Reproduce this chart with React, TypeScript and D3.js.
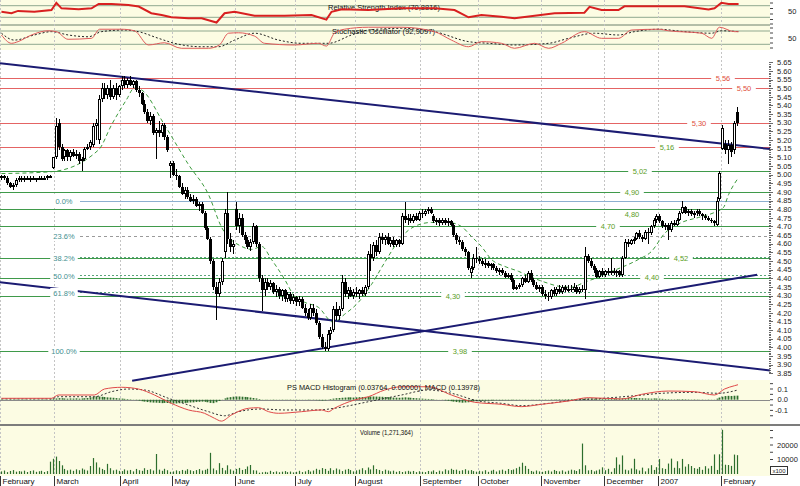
import React, { useEffect } from "react";
import * as d3 from "d3";

// ---------- DATA ----------
// daily candles [open, high, low, close]
const feb06 = [
  [4.98,5.00,4.97,4.99],[4.99,5.00,4.97,4.98],[4.98,4.99,4.94,4.95],[4.95,4.96,4.92,4.93],[4.93,4.95,4.91,4.94],
  [4.94,4.98,4.93,4.97],[4.97,4.99,4.96,4.98],[4.98,4.99,4.96,4.97],[4.97,4.99,4.96,4.98],[4.98,4.99,4.97,4.97],
  [4.97,4.99,4.96,4.98],[4.98,4.99,4.97,4.97],[4.97,4.98,4.96,4.98],[4.98,4.99,4.97,4.98],[4.98,4.99,4.97,4.97],
  [4.97,4.99,4.97,4.98],[4.98,5.00,4.97,4.99],[4.99,5.00,4.98,4.99],[5.04,5.10,5.03,5.10]];
const mar06 = [
  [5.10,5.33,5.09,5.28],[5.30,5.32,5.14,5.16],[5.16,5.18,5.08,5.09],[5.10,5.15,5.08,5.14],[5.14,5.15,5.08,5.10],
  [5.10,5.14,5.08,5.13],[5.13,5.15,5.10,5.11],[5.11,5.14,5.09,5.12],[5.12,5.13,5.06,5.08],[5.08,5.10,5.02,5.09],
  [5.09,5.16,5.08,5.15],[5.15,5.18,5.14,5.16],[5.16,5.20,5.14,5.19],[5.17,5.30,5.16,5.28],[5.28,5.32,5.20,5.30],
  [5.20,5.46,5.18,5.44],[5.44,5.53,5.42,5.50],[5.50,5.53,5.44,5.46],[5.46,5.52,5.44,5.50],[5.50,5.55,5.43,5.45],
  [5.45,5.52,5.44,5.50],[5.50,5.53,5.43,5.46],[5.46,5.52,5.45,5.51]];
const apr06 = [
  [5.51,5.57,5.49,5.55],[5.55,5.57,5.50,5.52],[5.52,5.56,5.50,5.55],[5.55,5.57,5.51,5.52],[5.52,5.55,5.50,5.54],
  [5.54,5.55,5.48,5.49],[5.49,5.51,5.45,5.47],[5.47,5.48,5.40,5.41],[5.41,5.43,5.35,5.36],[5.36,5.38,5.30,5.31],
  [5.31,5.36,5.29,5.34],[5.34,5.35,5.23,5.24],[5.24,5.27,5.09,5.26],[5.26,5.31,5.22,5.24],[5.24,5.30,5.22,5.29],
  [5.29,5.30,5.20,5.22],[5.22,5.23,5.13,5.14],[5.05,5.08,4.98,5.07]];
const may06 = [
  [5.07,5.08,4.99,5.00],[5.00,5.03,4.97,4.99],[4.99,5.00,4.92,4.93],[4.93,4.95,4.88,4.89],[4.89,4.93,4.86,4.91],
  [4.91,4.93,4.86,4.87],[4.87,4.89,4.84,4.85],[4.85,4.88,4.83,4.86],[4.86,4.87,4.81,4.82],[4.82,4.84,4.79,4.83],
  [4.83,4.84,4.77,4.78],[4.78,4.79,4.68,4.69],[4.69,4.70,4.62,4.63],[4.63,4.64,4.48,4.50],[4.50,4.51,4.33,4.35],
  [4.35,4.38,4.16,4.31],[4.31,4.40,4.29,4.38],[4.38,4.52,4.36,4.50],[4.55,4.80,4.52,4.78],[4.78,4.90,4.60,4.63],
  [4.63,4.66,4.55,4.58],[4.58,4.62,4.54,4.60]];
const jun06 = [
  [4.80,4.84,4.68,4.70],[4.70,4.78,4.66,4.75],[4.75,4.77,4.64,4.65],[4.65,4.67,4.60,4.62],[4.62,4.64,4.57,4.58],
  [4.58,4.63,4.56,4.61],[4.61,4.72,4.60,4.70],[4.70,4.71,4.58,4.60],[4.60,4.61,4.38,4.40],[4.40,4.42,4.21,4.33],
  [4.33,4.40,4.30,4.38],[4.38,4.40,4.33,4.35],[4.35,4.39,4.33,4.37],[4.37,4.38,4.31,4.32],[4.32,4.36,4.29,4.34],
  [4.34,4.35,4.28,4.30],[4.30,4.34,4.27,4.33],[4.33,4.34,4.26,4.28],[4.28,4.32,4.26,4.31],[4.31,4.32,4.25,4.27],
  [4.27,4.31,4.25,4.29]];
const jul06 = [
  [4.29,4.30,4.24,4.26],[4.26,4.30,4.24,4.28],[4.28,4.29,4.22,4.23],[4.23,4.25,4.18,4.20],[4.20,4.22,4.16,4.17],
  [4.17,4.25,4.16,4.23],[4.23,4.25,4.18,4.20],[4.20,4.22,4.13,4.14],[4.14,4.15,4.05,4.06],[4.06,4.08,3.99,4.00],
  [4.00,4.03,3.98,3.99],[3.99,4.10,3.98,4.08],[4.08,4.12,4.04,4.10],[4.10,4.24,4.09,4.22],[4.22,4.26,4.16,4.18],
  [4.18,4.24,4.16,4.22],[4.22,4.42,4.21,4.38],[4.38,4.40,4.29,4.31],[4.31,4.35,4.28,4.33],[4.33,4.35,4.29,4.30],
  [4.30,4.34,4.28,4.32]];
const aug06 = [
  [4.32,4.35,4.29,4.31],[4.31,4.34,4.28,4.33],[4.33,4.35,4.30,4.31],[4.31,4.36,4.30,4.35],[4.35,4.56,4.34,4.54],
  [4.54,4.60,4.44,4.52],[4.52,4.61,4.50,4.59],[4.59,4.62,4.53,4.55],[4.55,4.66,4.54,4.64],[4.64,4.66,4.60,4.62],
  [4.62,4.65,4.59,4.64],[4.64,4.66,4.59,4.60],[4.60,4.64,4.58,4.62],[4.62,4.64,4.58,4.59],[4.59,4.63,4.58,4.62],
  [4.62,4.63,4.58,4.60],[4.60,4.78,4.59,4.76],[4.76,4.84,4.72,4.74],[4.74,4.77,4.71,4.75],[4.75,4.77,4.72,4.73],
  [4.73,4.77,4.72,4.76],[4.76,4.78,4.73,4.74],[4.74,4.79,4.73,4.78]];
const sep06 = [
  [4.78,4.80,4.75,4.77],[4.77,4.80,4.76,4.79],[4.79,4.81,4.77,4.80],[4.80,4.81,4.77,4.78],[4.76,4.77,4.72,4.73],
  [4.73,4.75,4.71,4.74],[4.74,4.75,4.70,4.72],[4.72,4.75,4.71,4.74],[4.74,4.75,4.71,4.72],[4.72,4.75,4.70,4.73],
  [4.73,4.74,4.70,4.71],[4.71,4.72,4.64,4.65],[4.65,4.66,4.60,4.62],[4.62,4.64,4.59,4.61],[4.61,4.62,4.56,4.57],
  [4.57,4.58,4.53,4.55],[4.55,4.56,4.45,4.46],[4.43,4.47,4.40,4.46],[4.46,4.54,4.45,4.52],[4.52,4.58,4.49,4.51]];
const oct06 = [
  [4.51,4.53,4.48,4.50],[4.50,4.52,4.47,4.48],[4.48,4.51,4.46,4.49],[4.49,4.50,4.46,4.47],[4.47,4.49,4.45,4.48],
  [4.48,4.49,4.45,4.46],[4.46,4.47,4.43,4.44],[4.44,4.46,4.42,4.45],[4.45,4.46,4.42,4.43],[4.43,4.44,4.40,4.41],
  [4.41,4.43,4.40,4.42],[4.42,4.43,4.38,4.39],[4.39,4.40,4.33,4.34],[4.34,4.36,4.33,4.35],[4.35,4.37,4.34,4.36],
  [4.36,4.41,4.35,4.40],[4.40,4.42,4.37,4.38],[4.38,4.44,4.37,4.43],[4.43,4.45,4.38,4.39],[4.39,4.40,4.35,4.36],
  [4.36,4.38,4.33,4.34],[4.34,4.36,4.32,4.35]];
const nov06 = [
  [4.35,4.36,4.30,4.31],[4.31,4.33,4.28,4.30],[4.30,4.32,4.27,4.29],[4.29,4.34,4.28,4.33],[4.33,4.35,4.30,4.31],
  [4.31,4.35,4.30,4.34],[4.34,4.36,4.31,4.32],[4.32,4.36,4.31,4.35],[4.35,4.36,4.32,4.33],[4.33,4.36,4.32,4.34],
  [4.34,4.36,4.32,4.33],[4.33,4.37,4.32,4.35],[4.35,4.36,4.31,4.32],[4.32,4.35,4.31,4.34],[4.34,4.36,4.32,4.33],
  [4.33,4.58,4.28,4.53],[4.53,4.54,4.49,4.50],[4.50,4.52,4.46,4.47],[4.47,4.48,4.43,4.45],[4.45,4.46,4.40,4.41],
  [4.41,4.45,4.40,4.44],[4.44,4.46,4.41,4.42]];
const dec06 = [
  [4.42,4.45,4.41,4.44],[4.44,4.46,4.42,4.43],[4.43,4.52,4.42,4.44],[4.44,4.46,4.42,4.43],[4.43,4.45,4.41,4.44],
  [4.44,4.45,4.41,4.42],[4.42,4.53,4.41,4.52],[4.52,4.63,4.51,4.61],[4.61,4.63,4.58,4.60],[4.60,4.63,4.59,4.62],
  [4.62,4.64,4.60,4.63],[4.63,4.67,4.62,4.66],[4.66,4.68,4.63,4.64],[4.64,4.65,4.61,4.63],[4.63,4.68,4.62,4.67],
  [4.67,4.69,4.60,4.66],[4.66,4.71,4.65,4.70],[4.70,4.75,4.69,4.74],[4.74,4.77,4.72,4.76]];
const jan07 = [
  [4.76,4.77,4.72,4.73],[4.73,4.74,4.69,4.70],[4.70,4.72,4.68,4.71],[4.71,4.72,4.62,4.68],[4.68,4.73,4.67,4.72],
  [4.72,4.74,4.70,4.71],[4.71,4.75,4.70,4.74],[4.74,4.79,4.73,4.78],[4.78,4.85,4.77,4.81],[4.81,4.82,4.77,4.78],
  [4.78,4.80,4.76,4.79],[4.79,4.80,4.76,4.77],[4.77,4.79,4.75,4.78],[4.78,4.80,4.76,4.79],[4.79,4.80,4.76,4.77],
  [4.77,4.78,4.74,4.76],[4.76,4.77,4.74,4.75],[4.75,4.76,4.73,4.74],[4.74,4.75,4.72,4.73],[4.73,4.74,4.70,4.72],
  [4.71,4.87,4.70,4.85],[4.86,5.02,4.85,5.01]];
const feb07 = [
  [5.15,5.29,5.14,5.27],[5.18,5.20,5.12,5.14],[5.14,5.20,5.06,5.17],[5.17,5.19,5.10,5.13],[5.14,5.31,5.12,5.30],
  [5.36,5.39,5.28,5.30]];

// daily volume (x100)
const volFeb06 = [1800,2400,1300,2100,2700,1600,2000,1700,2300,1400,2100,2500,1500,1900,2200,1400,2000,8500,10500];
const volMar06 = [12000,9000,6000,3500,2500,3000,2200,3200,2600,3800,3000,2400,5500,11000,8000,4500,3500,2700,7000,4000,2500,3000,2200];
const volApr06 = [2000,3200,2400,2800,1800,3500,2600,2200,4000,2800,3300,2400,13800,3000,2200,3600,2600,1500];
const volMay06 = [1800,2500,2000,2800,2300,3300,2600,2000,2700,3400,2400,2900,3600,14600,3800,2600,7500,4200,2500,6000,3200,2300];
const volJun06 = [3500,4200,2800,3400,5200,6200,2600,2400,900,1200,1500,1100,2200,1400,1800,1200,1600,2000,1300,1700,1100];
const volJul06 = [1500,2200,1300,1800,2800,1700,2400,3600,2900,4100,3500,2200,4000,2600,3800,3100,2000,3000,3500,2700,1800];
const volAug06 = [2500,3000,4000,2600,4500,3200,6000,3400,2800,2000,3000,2400,1800,2300,1500,2000,1400,1800,2200,1600,2100,1300,1900];
const volSep06 = [1500,1300,2100,1700,2500,1400,2300,1800,3200,2500,3600,2800,3000,2200,2600,3300,2400,2700,2000,1600];
const volOct06 = [2200,1800,2600,1500,2300,2900,1700,2500,3000,2200,3400,2700,3100,4000,5000,7800,5600,3500,2100,1600,2400,1800];
const volNov06 = [1500,2000,2400,1700,2800,2100,1800,2500,1600,2300,3000,2600,2100,3300,21000,6000,2500,2800,1800,2400,3100,4600];
const volDec06 = [2600,3600,1500,4000,11500,6500,12800,3000,2500,3800,10500,3200,2400,4400,1800,3900,6100,2800,4700];
const volJan07 = [10300,4000,3500,7200,10600,4300,8800,4000,10400,5100,6800,5500,4100,3600,4800,2900,5400,3800,5600,13500,2800,13600];
const volFeb07 = [30500,6400,6200,5600,13400,13000];

// MACD histogram, daily
const histFeb06 = [0.003,-0.002,0.002,-0.003,0.002,0.003,-0.002,0.002,0.003,0.002,-0.002,0.003,0.002,0.002,-0.002,0.003,0.002,0.004,0.008];
const histMar06 = [0.012,0.015,0.014,0.012,0.010,0.012,0.011,0.013,0.010,0.012,0.014,0.016,0.022,0.028,0.032,0.030,0.027,0.025,0.022,0.020,0.018,0.015,0.012];
const histApr06 = [0.010,0.008,0.006,0.004,0.002,-0.004,-0.008,-0.014,-0.018,-0.022,-0.025,-0.027,-0.028,-0.030,-0.032,-0.030,-0.031,-0.034];
const histMay06 = [-0.036,-0.035,-0.033,-0.031,-0.030,-0.028,-0.026,-0.025,-0.022,-0.020,-0.018,-0.020,-0.024,-0.030,-0.032,-0.024,-0.012,0.002,0.012,0.020,0.024,0.028];
const histJun06 = [0.030,0.030,0.028,0.026,0.024,0.020,0.016,0.012,0.006,0.002,-0.002,0.002,-0.002,0.003,-0.002,0.002,-0.003,0.002,-0.002,0.003,0.002];
const histJul06 = [-0.003,0.002,-0.002,0.002,0.003,-0.002,0.003,-0.004,-0.006,-0.008,-0.006,0.002,0.006,0.010,0.014,0.016,0.018,0.020,0.022,0.022,0.020];
const histAug06 = [0.022,0.024,0.025,0.026,0.028,0.030,0.030,0.029,0.028,0.027,0.025,0.024,0.022,0.020,0.019,0.018,0.020,0.022,0.020,0.018,0.016,0.014,0.012];
const histSep06 = [0.010,0.008,0.007,0.006,0.004,0.002,0.001,-0.002,-0.006,-0.010,-0.014,-0.018,-0.022,-0.025,-0.028,-0.026,-0.024,-0.020,-0.016,-0.014];
const histOct06 = [-0.012,-0.010,-0.009,-0.008,-0.007,-0.006,-0.005,-0.006,-0.005,-0.004,-0.005,-0.004,-0.003,-0.004,-0.003,-0.002,-0.003,-0.002,0.002,-0.002,0.002,0.003];
const histNov06 = [0.002,0.003,0.002,0.004,0.003,0.004,0.005,0.004,0.005,0.006,0.005,0.006,0.007,0.006,0.010,0.012,0.012,0.011,0.010,0.012,0.011,0.010];
const histDec06 = [0.010,0.011,0.012,0.011,0.010,0.011,0.014,0.016,0.018,0.017,0.016,0.015,0.014,0.013,0.012,0.011,0.010,0.012,0.011];
const histJan07 = [0.010,0.008,0.006,0.005,0.004,0.004,0.005,0.004,0.006,0.005,0.004,0.003,0.004,0.003,0.002,0.003,0.002,0.003,0.002,0.002,0.010,0.020];
const histFeb07 = [0.028,0.034,0.036,0.035,0.037,0.038];

// moving average (green dashed) read at sample days
const maDays = [0,17.5,34,38.5,43.7,46.5,49,57,65.4,72.4,77,84,87.4,91,94.4,99,102.4,106,110.8,116,120,124.8,129.4,134,140,144.4,150.3,156.3,160.8,164.3,167.8,171.3,175.9,180.8,185.3,190,194.8,199.3,203.8,208.7,213.3,216.8,222.7,227.3,231.8,237.8,243.7,249.3,252.4,254.2,257.7];
const maValues = [5.006,5.017,5.144,5.288,5.433,5.502,5.49,5.288,5.058,4.884,4.694,4.584,4.567,4.584,4.509,4.394,4.296,4.261,4.232,4.146,4.192,4.261,4.365,4.492,4.642,4.70,4.723,4.723,4.70,4.642,4.584,4.509,4.469,4.44,4.406,4.377,4.354,4.348,4.377,4.406,4.44,4.463,4.509,4.556,4.659,4.723,4.752,4.781,4.809,4.884,4.983];

// RSI
const rsiDays = [0,3.5,5.8,11.5,17.5,19.2,21,27,31.5,34,38.5,44.4,48,52.4,56,59.4,65.4,70,75.2,78,81.5,88.5,99,108.4,113.6,115.4,119,128.3,140,151.4,158.4,163.3,167.8,174.8,179.4,186.4,193.4,203.8,205.6,209.8,215.7,217.8,228.3,238.8,247.2,249.3,251.7,254.2,257.7];
const rsiValues = [49,44,52,49,55,80,61,58,61,76,76,72,67,44,38,30,27,27,12,44,49,35,35,38,22,49,58,55,61,61,55,30,38,32,27,35,44,46,66,55,55,68,68,68,57,61,80,76,76];

// Stochastic %K and %D
const stochKDays = [0,3.5,5.8,10.5,16.3,19.2,23.3,31.5,34.3,42,46.5,51.4,57,62.9,72.4,76.2,79.4,82.9,88.5,92,102.4,110.8,113.6,116.4,119.9,128.3,139.9,151.4,157.3,163.3,167.8,174.8,179.4,186.4,191.3,195.8,203.8,209.8,215.7,220.3,229.7,233.2,244.8,248.3,251,256.3,257.7];
const stochKValues = [62,24.5,32,62,81,77,42.6,47,88,88,81,17,27,2,2,17,70,72,57,24.5,17,24.5,12,70,88,97,97,77,39,9,32,24.5,2,24.5,2,24.5,77,47,47,84.5,88,81,70,47,97,77,77];
const stochDDays = [0,4.5,11.5,17.5,23.4,30.4,35,43,47.9,54.9,60.5,69.9,75.9,81.5,88.5,96.9,104.9,114.3,122.4,128.3,139.9,151.4,163.3,170.3,179.4,191.3,198.3,207.3,215.7,221.3,229.7,238.8,248.3,251.7,257.7];
const stochDValues = [70,39,62,77,62,54,77,84.5,77,47,24.5,9,9,39,70,39,24.5,24.5,62,84.5,92,77,32,24.5,17,24.5,47,70,62,77,88,77,70,81,77];

// MACD and signal
const macdDays = [0,17.5,19.9,32.5,36,42,47.9,53.5,59.4,65.4,71,74.5,76.9,80.4,86.4,89.9,93.4,96.9,104.9,111.9,114.3,116.4,123.4,128.3,133.9,139.9,149.3,157.3,165.4,174.8,181.8,188.8,198.3,205.2,216.8,223.8,233.2,242.3,249.3,252.8,256.3,257.5];
const macdValues = [0.013,0.013,0.044,0.044,0.10,0.116,0.10,0.044,-0.034,-0.096,-0.127,-0.174,-0.20,-0.143,-0.08,-0.075,-0.112,-0.127,-0.112,-0.096,-0.112,-0.08,-0.003,0.028,0.09,0.121,0.121,0.044,-0.024,-0.043,-0.065,-0.043,-0.012,0.019,0.007,0.05,0.081,0.075,0.044,0.10,0.131,0.14];
const signalDays = [0,17.5,19.9,32.5,38.5,44.4,50,58.4,65.4,72.4,78,82.9,90.9,99,110.8,116.4,128.3,139.9,149.3,157.3,166.8,174.8,181.8,191.3,200.3,207.3,221.3,230.8,242.3,250.7,257.5];
const signalValues = [0.007,0.007,0.028,0.028,0.075,0.10,0.091,0.013,-0.05,-0.112,-0.15,-0.112,-0.087,-0.096,-0.096,-0.08,-0.019,0.044,0.091,0.06,-0.012,-0.034,-0.056,-0.034,-0.003,0.007,0.037,0.06,0.069,0.06,0.091];

// horizontal levels
const resistanceLevels = [5.56, 5.50, 5.30, 5.16];
const resistanceLabels = ["5,56", "5,50", "5,30", "5,16"];
const supportLevels = [5.02, 4.90, 4.80, 4.70, 4.52, 4.40, 4.30, 3.98];
const supportLabels = ["5,02", "4,90", "4,80", "4,70", "4,52", "4,40", "4,30", "3,98"];
const fibHigh = 4.85;
const fibLow = 3.98;
const fibRatios = [0, 0.236, 0.382, 0.5, 0.618, 1];
const fibLabels = ["0.0%", "23.6%", "38.2%", "50.0%", "61.8%", "100.0%"];

// trend lines [startDay, startPrice, endDay, endPrice]
const trendLines = [
  [-0.5, 5.644, 268.7, 5.148],
  [-0.5, 4.377, 268.7, 3.866],
  [45.7, 3.807, 264.2, 4.421],
];

const monthNames = ["February","March","April","May","June","July","August","September","October","November","December","2007","February"];
const monthStarts = [0,19,42,60,82,103,124,147,167,189,211,230,252];

const priceTicks = d3.range(0, 37).map((i) => 3.85 + i * 0.05);

// ---------- LAYOUT / STYLE ----------
const RIGHT = 770;
const FONT = "'Liberation Sans', Arial, sans-serif";
const YELLOW = "#fcfce3";
const resistanceLabelX = [723, 744, 699, 667];
const resistanceLabelColor = ["#e0503c", "#e0503c", "#e0503c", "#5a9e1e"];
const supportLabelX = [640, 632, 632, 608, 681, 652, 453, 460];
const supportLabelDy = [0, 0, 5, 0, 0, -1, 0, 0];

export default function App() {
  useEffect(() => {
    document.body.style.margin = "0";
  }, []);

  const candles = [...feb06, ...mar06, ...apr06, ...may06, ...jun06, ...jul06, ...aug06, ...sep06, ...oct06, ...nov06, ...dec06, ...jan07, ...feb07];
  const volumes = [...volFeb06, ...volMar06, ...volApr06, ...volMay06, ...volJun06, ...volJul06, ...volAug06, ...volSep06, ...volOct06, ...volNov06, ...volDec06, ...volJan07, ...volFeb07];
  const hist = [...histFeb06, ...histMar06, ...histApr06, ...histMay06, ...histJun06, ...histJul06, ...histAug06, ...histSep06, ...histOct06, ...histNov06, ...histDec06, ...histJan07, ...histFeb07];

  const x = d3.scaleLinear().domain([-0.5, 257.5]).range([0, 738]);
  const y = d3.scaleLinear().domain([3.85, 5.65]).range([373.3, 62.3]);
  const yRsi = d3.scaleLinear().domain([30, 70]).range([17.3, 5.7]);
  const ySto = d3.scaleLinear().domain([20, 80]).range([44.3, 31]);
  const yMacd = d3.scaleLinear().domain([-0.1, 0.1]).range([410.4, 389.0]);
  const yVol = d3.scaleLinear().domain([0, 20000]).range([474, 445]);

  const mkLine = (days: number[], vals: number[], ys: (v: number) => number, curve = d3.curveLinear) =>
    d3.line<number>().x((_, i) => x(days[i])).y((v) => ys(v)).curve(curve)(vals) || "";

  const px = (i: number) => Math.round(x(i));

  const gridXs = monthStarts.map((s) => Math.round(x(s - 0.5)) + 0.5);

  const labelBox = (cx: number, cy: number, txt: string, color: string, key: string, bg = true) => {
    const w = txt.length * 3.9 + 8;
    return (
      <g key={key}>
        {bg && <rect x={cx - w / 2} y={cy - 5} width={w} height={10} fill="#fff" />}
        <text x={cx} y={cy + 2.6} fontSize={7.5} fill={color} textAnchor="middle" fontFamily={FONT}>{txt}</text>
      </g>
    );
  };

  return (
    <svg width={800} height={486} style={{ position: "absolute", left: 0, top: 0, display: "block", background: "#fff" }} fontFamily={FONT}>
      {/* backgrounds */}
      <rect x={0} y={0} width={RIGHT} height={50} fill={YELLOW} />
      <rect x={0} y={380} width={RIGHT} height={96} fill={YELLOW} />

      {/* top panels grid */}
      {[yRsi(70), yRsi(30), ySto(80), ySto(20)].map((v) => (
        <line key={"tp" + v} x1={0} x2={RIGHT} y1={v} y2={v} stroke="#8fa88f" strokeWidth={1} />
      ))}
      <line x1={0} x2={RIGHT} y1={25} y2={25} stroke="#6d806d" strokeWidth={1} />

      {/* vertical dashed month grid */}
      {gridXs.map((gx, i) => (
        <line key={"g" + i} x1={gx} x2={gx} y1={0} y2={476} stroke="#c4c4c4" strokeDasharray="2,2" strokeWidth={1} />
      ))}

      {/* RSI */}
      <text x={328} y={9.5} fontSize={7.5} fill="#111" textLength={112} lengthAdjust="spacingAndGlyphs">Relative Strength Index (70,8816)</text>
      <path d={mkLine(rsiDays, rsiValues, yRsi)} fill="none" stroke="#d82020" strokeWidth={2} />

      {/* Stochastic */}
      <text x={332} y={33.5} fontSize={7.5} fill="#111" textLength={103} lengthAdjust="spacingAndGlyphs">Stochastic Oscillator (92,9097)</text>
      <path d={mkLine(stochDDays, stochDValues, ySto, d3.curveMonotoneX)} fill="none" stroke="#222" strokeWidth={1} strokeDasharray="2,2" />
      <path d={mkLine(stochKDays, stochKValues, ySto, d3.curveMonotoneX)} fill="none" stroke="#e05a5a" strokeWidth={1} />

      {/* main panel horizontal levels */}
      {resistanceLevels.map((lv, i) => (
        <line key={"r" + i} x1={0} x2={RIGHT} y1={Math.round(y(lv)) + 0.5} y2={Math.round(y(lv)) + 0.5} stroke="#e46464" strokeWidth={1.2} />
      ))}
      {supportLevels.map((lv, i) => (
        <line key={"s" + i} x1={0} x2={RIGHT} y1={Math.round(y(lv)) + 0.5} y2={Math.round(y(lv)) + 0.5} stroke="#3f9a4a" strokeWidth={1.2} />
      ))}
      {fibRatios.map((r, i) => {
        const lv = fibHigh - r * (fibHigh - fibLow);
        const yy = Math.round(y(lv)) + 0.5;
        if (i === 0) return <line key={"f" + i} x1={80} x2={RIGHT} y1={yy} y2={yy} stroke="#8db0cf" strokeWidth={1} />;
        if (i === 1) return <line key={"f" + i} x1={80} x2={RIGHT} y1={yy} y2={yy} stroke="#9a9a9a" strokeWidth={1} strokeDasharray="3,3" />;
        if (i === 5) return null;
        return <line key={"f" + i} x1={80} x2={RIGHT} y1={yy - 1} y2={yy - 1} stroke="#5aa57a" strokeWidth={1} strokeDasharray="2,2" />;
      })}

      {/* trend lines */}
      {trendLines.map((t, i) => (
        <line key={"t" + i} x1={x(t[0])} y1={y(t[1])} x2={x(t[2])} y2={y(t[3])} stroke="#1b1b72" strokeWidth={2} />
      ))}

      {/* moving average */}
      <path d={mkLine(maDays, maValues, y, d3.curveMonotoneX)} fill="none" stroke="#3c9a3c" strokeWidth={1} strokeDasharray="4,3" />

      {/* candles */}
      {candles.map((c, i) => {
        const [o, h, l, cl] = c;
        const cx = px(i);
        const up = cl >= o;
        const top = Math.round(y(Math.max(o, cl)));
        const bot = Math.round(y(Math.min(o, cl)));
        const bh = Math.max(1, bot - top);
        return (
          <g key={"c" + i} shapeRendering="crispEdges">
            <line x1={cx + 0.5} x2={cx + 0.5} y1={Math.round(y(h))} y2={Math.round(y(l))} stroke="#000" strokeWidth={1} />
            {up ? (
              <rect x={cx - 0.5} y={top + 0.5} width={2} height={Math.max(1, bh - 1)} fill="#fff" stroke="#000" strokeWidth={1} />
            ) : (
              <rect x={cx - 1} y={top} width={3} height={bh} fill="#000" />
            )}
          </g>
        );
      })}

      {/* level labels */}
      {resistanceLevels.map((lv, i) => labelBox(resistanceLabelX[i], Math.round(y(lv)), resistanceLabels[i], resistanceLabelColor[i], "rl" + i))}
      {supportLevels.map((lv, i) => labelBox(supportLabelX[i], Math.round(y(lv)) + supportLabelDy[i], supportLabels[i], "#5a9e1e", "sl" + i, supportLabelDy[i] === 0 || supportLabelDy[i] === -1))}
      {fibRatios.map((r, i) => labelBox(64, Math.round(y(fibHigh - r * (fibHigh - fibLow))), fibLabels[i], "#3f8f8f", "fl" + i))}

      {/* price axis */}
      {d3.range(0, 181).map((i) => {
        const v = 3.85 + i * 0.01;
        const yy = Math.round(y(v)) + 0.5;
        return <line key={"pt" + i} x1={RIGHT - 1} x2={RIGHT + (i % 5 === 0 ? 3 : 1)} y1={yy} y2={yy} stroke="#444" strokeWidth={0.8} />;
      })}
      {priceTicks.map((v, i) => (
        <text key={"pl" + i} x={777} y={y(v) + 2.7} fontSize={7.5} fill="#222">{v.toFixed(2)}</text>
      ))}

      {/* top axes */}
      {[3, 8.5, 14, 19.5, 24].map((v) => <line key={"ta" + v} x1={RIGHT} x2={RIGHT + 3} y1={v} y2={v} stroke="#444" />)}
      {[28, 33, 38, 43, 48].map((v) => <line key={"tb" + v} x1={RIGHT} x2={RIGHT + 3} y1={v} y2={v} stroke="#444" />)}
      <text x={788} y={14.3} fontSize={7.5} fill="#222">50</text>
      <text x={788} y={40.5} fontSize={7.5} fill="#222">50</text>

      {/* MACD panel */}
      <line x1={0} x2={RIGHT} y1={Math.round(yMacd(0)) + 0.5} y2={Math.round(yMacd(0)) + 0.5} stroke="#8a8a8a" strokeWidth={1} />
      {hist.map((h, i) => (
        <line key={"h" + i} x1={px(i) + 0.5} x2={px(i) + 0.5} y1={yMacd(0)} y2={yMacd(h)} stroke="#2d6e2d" strokeWidth={1.8} />
      ))}
      <path d={mkLine(signalDays, signalValues, yMacd, d3.curveMonotoneX)} fill="none" stroke="#333" strokeWidth={1} strokeDasharray="2,2" />
      <path d={mkLine(macdDays, macdValues, yMacd, d3.curveMonotoneX)} fill="none" stroke="#e04848" strokeWidth={1} />
      <text x={287} y={390} fontSize={7.5} fill="#111" textLength={193} lengthAdjust="spacingAndGlyphs">PS MACD Histogram (0.03764, 0.00000), MACD (0.13978)</text>
      {[0.15, 0.1, 0.05, 0, -0.05, -0.1, -0.15].map((v) => (
        <line key={"mt" + v} x1={RIGHT} x2={RIGHT + 3} y1={yMacd(v)} y2={yMacd(v)} stroke="#444" />
      ))}
      {[0.1, 0, -0.1].map((v) => (
        <text key={"ml" + v} x={788} y={yMacd(v) + 2.7} fontSize={7.5} fill="#222" textAnchor="end">{v.toFixed(1)}</text>
      ))}

      {/* separator */}
      <line x1={0} x2={RIGHT + 30} y1={425} y2={425} stroke="#7c7c7c" strokeWidth={2} />

      {/* Volume */}
      <text x={360} y={434.5} fontSize={7.5} fill="#111" textLength={53} lengthAdjust="spacingAndGlyphs">Volume (1,271,364)</text>
      {volumes.map((v, i) => (
        <line key={"v" + i} x1={px(i) + 0.5} x2={px(i) + 0.5} y1={yVol(0)} y2={yVol(v)} stroke="#2d6e2d" strokeWidth={1.2} />
      ))}
      {[30000, 25000, 20000, 15000, 10000, 5000].map((v) => (
        <line key={"vt" + v} x1={RIGHT} x2={RIGHT + 3} y1={yVol(v)} y2={yVol(v)} stroke="#444" />
      ))}
      {[20000, 10000].map((v) => (
        <text key={"vl" + v} x={777} y={yVol(v) + 2.7} fontSize={7.5} fill="#222">{v}</text>
      ))}
      <rect x={770.5} y={466.5} width={17} height={8} fill="#fff" stroke="#333" strokeWidth={1} />
      <text x={779} y={473} fontSize={6} fill="#222" textAnchor="middle">x100</text>

      {/* month labels */}
      {monthStarts.map((s, i) => (
        <g key={"m" + i}>
          <line x1={gridXs[i]} x2={gridXs[i]} y1={476} y2={486} stroke="#333" strokeWidth={1} />
          <text x={gridXs[i] + 2} y={484} fontSize={8} fill="#111">{monthNames[i]}</text>
        </g>
      ))}
    </svg>
  );
}
